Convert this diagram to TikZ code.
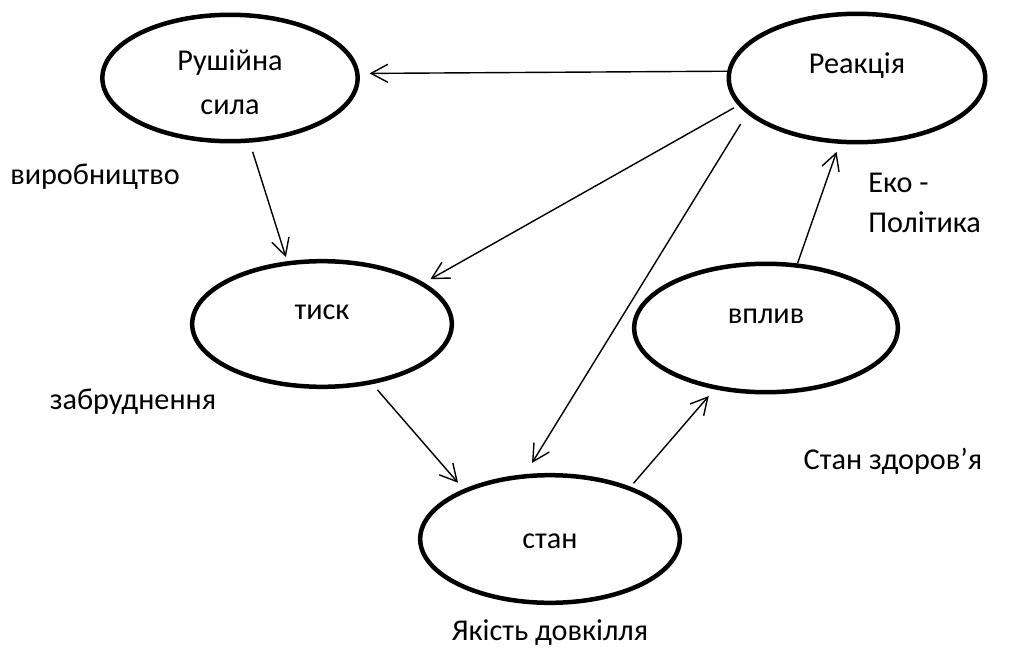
\documentclass[tikz,border=0pt]{standalone}
\usepackage{fontspec}
\setmainfont{Carlito}
\usetikzlibrary{shapes.geometric,arrows.meta,positioning}
\tikzset{
    oval/.style={draw, ellipse, line width=3.2pt, outer sep=0.056cm, inner sep=0pt,
    align=center, font=\fontsize{21.5}{31}\selectfont, text height=14pt},
    lbl/.style={font=\fontsize{21.5}{31}\selectfont, inner sep=0pt},
    arr/.style={line width=1pt, -{Straight Barb[length=0.42cm, width=0.45cm]}}
}
\begin{document}
\begin{tikzpicture}[x=0.025cm, y=-0.025cm]
    \useasboundingbox (0,0) rectangle (1013,651);
    \node[oval, minimum width=6.38cm, minimum height=3.16cm, text height=52pt] (rush) at (230,78) {Рушійна\\сила};
    \node[oval, minimum width=6.41cm, minimum height=3.21cm, text depth=21pt] (reakc) at (857,78) {Реакція};
    \node[oval, minimum width=6.49cm, minimum height=3.14cm, text depth=21pt] (tysk) at (322,324) {тиск};
    \node[oval, minimum width=6.59cm, minimum height=3.21cm, text depth=21pt] (vplyv) at (766,328) {вплив};
    \node[oval, minimum width=6.49cm, minimum height=3.19cm] (stan) at (550,539) {стан};

    \node[lbl] (vyrob) at (95,177) {виробництво};
    \node[lbl, anchor=west] (eko) at (868,183) {Еко -};
    \node[lbl, anchor=west] (polit) at (868,222) {Політика};
    \node[lbl] (zabr) at (133,402) {забруднення};
    \node[lbl] (zdorov) at (893,461) {Стан здоров’я};
    \node[lbl] (yakist) at (550,633) {Якість довкілля};

    \draw[arr, shorten >=0.25cm] (reakc.177) -- (rush.2);
    \draw[arr, shorten <=0.24cm, shorten >=0.11cm] (rush.-73) -- (tysk.119);
    \draw[arr, shorten <=0.12cm, shorten >=0.18cm] (reakc.193) -- (tysk.22);
    \draw[arr, shorten <=0.3cm, shorten >=0.33cm] (reakc.198) -- (stan.111);
    \draw[arr, shorten <=0.19cm, shorten >=0.21cm] (tysk.-50) -- (stan.150);
    \draw[arr, shorten <=0.11cm, shorten >=0.22cm] (stan.33) -- (vplyv.230);
    \draw[arr, shorten >=0.21cm] (vplyv.64) -- (reakc.255);
\end{tikzpicture}
\end{document}
